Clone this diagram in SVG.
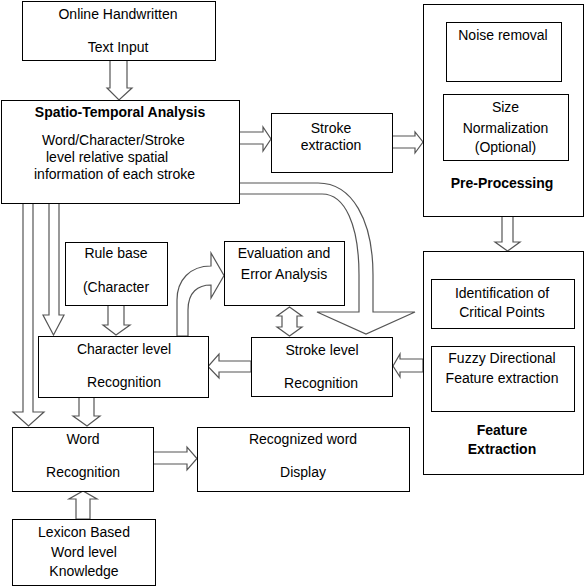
<svg xmlns="http://www.w3.org/2000/svg" width="585" height="586" viewBox="0 0 585 586">
<style>
.box{fill:#fff;stroke:#000;stroke-width:1}
.arr{fill:#fff;stroke:#555;stroke-width:1.2;stroke-linejoin:miter}
text{font-family:"Liberation Sans",Arial,sans-serif;font-size:14px;fill:#000;text-anchor:middle}
.b{font-weight:bold}
.s{text-anchor:start}
</style>
<rect width="585" height="586" fill="#fff"/>
<g id="connectors">
<polygon class="arr" points="110,60 127,60 127,88 132,88 119,100 107,88 110,88"/>
<polygon class="arr" points="239,132 263,132 263,127 271,139 263,151 263,144 239,144"/>
<polygon class="arr" points="392,136 415,136 415,132 423,142 415,153 415,148 392,148"/>
<polygon class="arr" points="502,216 513,216 513,242 520,242 507.5,251 495,242 502,242"/>
<polygon class="arr" points="423,359 400,359 400,354 393,366 400,377 400,372 423,372"/>
<polygon class="arr" points="251,361 219,361 219,354 208,366.5 219,378 219,372 251,372"/>
<polygon class="arr" points="289.5,307 302,316 297,316 297,327 302,327 289.5,336 277,327 282,327 282,316 277,316"/>
<polygon class="arr" points="153,452 187,452 187,447 197,458.5 187,470 187,464 153,464"/>
<polygon class="arr" points="76,519 76,499 69,499 83,491 97,499 90,499 90,519"/>
<polygon class="arr" points="23,203 33,203 33,412 44,412 28.5,426 13,412 23,412"/>
<polygon class="arr" points="49,203 59,203 59,315 64,315 53.5,335 43,315 49,315"/>
<polygon class="arr" points="108,305 124,305 124,325 130,325 116,335 103,325 108,325"/>
<polygon class="arr" points="79,397 94,397 94,416 100,416 87,426 73,416 79,416"/>
<path class="arr" d="M177,336 L177,300 C177,280 190,266 211,266 L211,253 L224,275.5 L211,298 L211,285 C198,285 188,292 188,310 L188,336 Z"/>
<path class="arr" d="M239,183 L318,183 C352,183 373,220 373,275 L373,312 L415,312 L366,334 L317,312 L359,312 L359,275 C359,225 345,194 322,194 L239,194 Z"/>
</g>
<g id="online-input">
<rect class="box" x="22.5" y="1.5" width="193" height="59"/>
<text x="118" y="19">Online Handwritten</text>
<text x="118" y="52">Text Input</text>
</g>
<g id="spatio-temporal">
<rect class="box" x="1.5" y="100.5" width="238" height="103"/>
<text class="b" x="120" y="117">Spatio-Temporal Analysis</text>
<text class="s" x="42" y="145">Word/Character/Stroke</text>
<text class="s" x="46" y="162">level relative spatial</text>
<text class="s" x="34" y="179">information of each stroke</text>
</g>
<g id="stroke-extraction">
<rect class="box" x="271.5" y="113.5" width="121" height="59"/>
<text x="331" y="133">Stroke</text>
<text x="331" y="150">extraction</text>
</g>
<g id="pre-processing">
<rect class="box" x="423.5" y="4.5" width="160" height="212"/>
<rect class="box" x="446.5" y="22.5" width="115" height="59"/>
<text x="503" y="40">Noise removal</text>
<rect class="box" x="443.5" y="94.5" width="125" height="66"/>
<text x="505.5" y="112">Size</text>
<text x="505.5" y="133">Normalization</text>
<text x="505.5" y="152">(Optional)</text>
<text class="b" x="502" y="188">Pre-Processing</text>
</g>
<g id="feature-extraction">
<rect class="box" x="423.5" y="251.5" width="160" height="223"/>
<rect class="box" x="431.5" y="279.5" width="143" height="49"/>
<text x="502" y="298">Identification of</text>
<text x="502" y="317">Critical Points</text>
<rect class="box" x="431.5" y="346.5" width="143" height="65"/>
<text x="502" y="363">Fuzzy Directional</text>
<text x="502" y="383">Feature extraction</text>
<text class="b" x="502" y="435">Feature</text>
<text class="b" x="502" y="454">Extraction</text>
</g>
<g id="rule-base">
<rect class="box" x="65.5" y="242.5" width="102" height="63"/>
<text x="116" y="258">Rule base</text>
<text x="116" y="292">(Character</text>
</g>
<g id="evaluation">
<rect class="box" x="224.5" y="241.5" width="120" height="64"/>
<text x="284" y="258">Evaluation and</text>
<text x="284" y="279">Error Analysis</text>
</g>
<g id="character-level">
<rect class="box" x="38.5" y="336.5" width="170" height="61"/>
<text x="124" y="354">Character level</text>
<text x="124" y="387">Recognition</text>
</g>
<g id="stroke-level">
<rect class="box" x="251.5" y="337.5" width="141" height="59"/>
<text x="322" y="355">Stroke level</text>
<text x="321" y="388">Recognition</text>
</g>
<g id="word-recognition">
<rect class="box" x="12.5" y="427.5" width="141" height="64"/>
<text x="83" y="444">Word</text>
<text x="83" y="477">Recognition</text>
</g>
<g id="recognized-word">
<rect class="box" x="197.5" y="427.5" width="212" height="64"/>
<text x="303" y="444">Recognized word</text>
<text x="303" y="477">Display</text>
</g>
<g id="lexicon">
<rect class="box" x="12.5" y="519.5" width="143" height="66"/>
<text x="84" y="537">Lexicon Based</text>
<text x="84" y="557">Word level</text>
<text x="84" y="576">Knowledge</text>
</g>
</svg>
